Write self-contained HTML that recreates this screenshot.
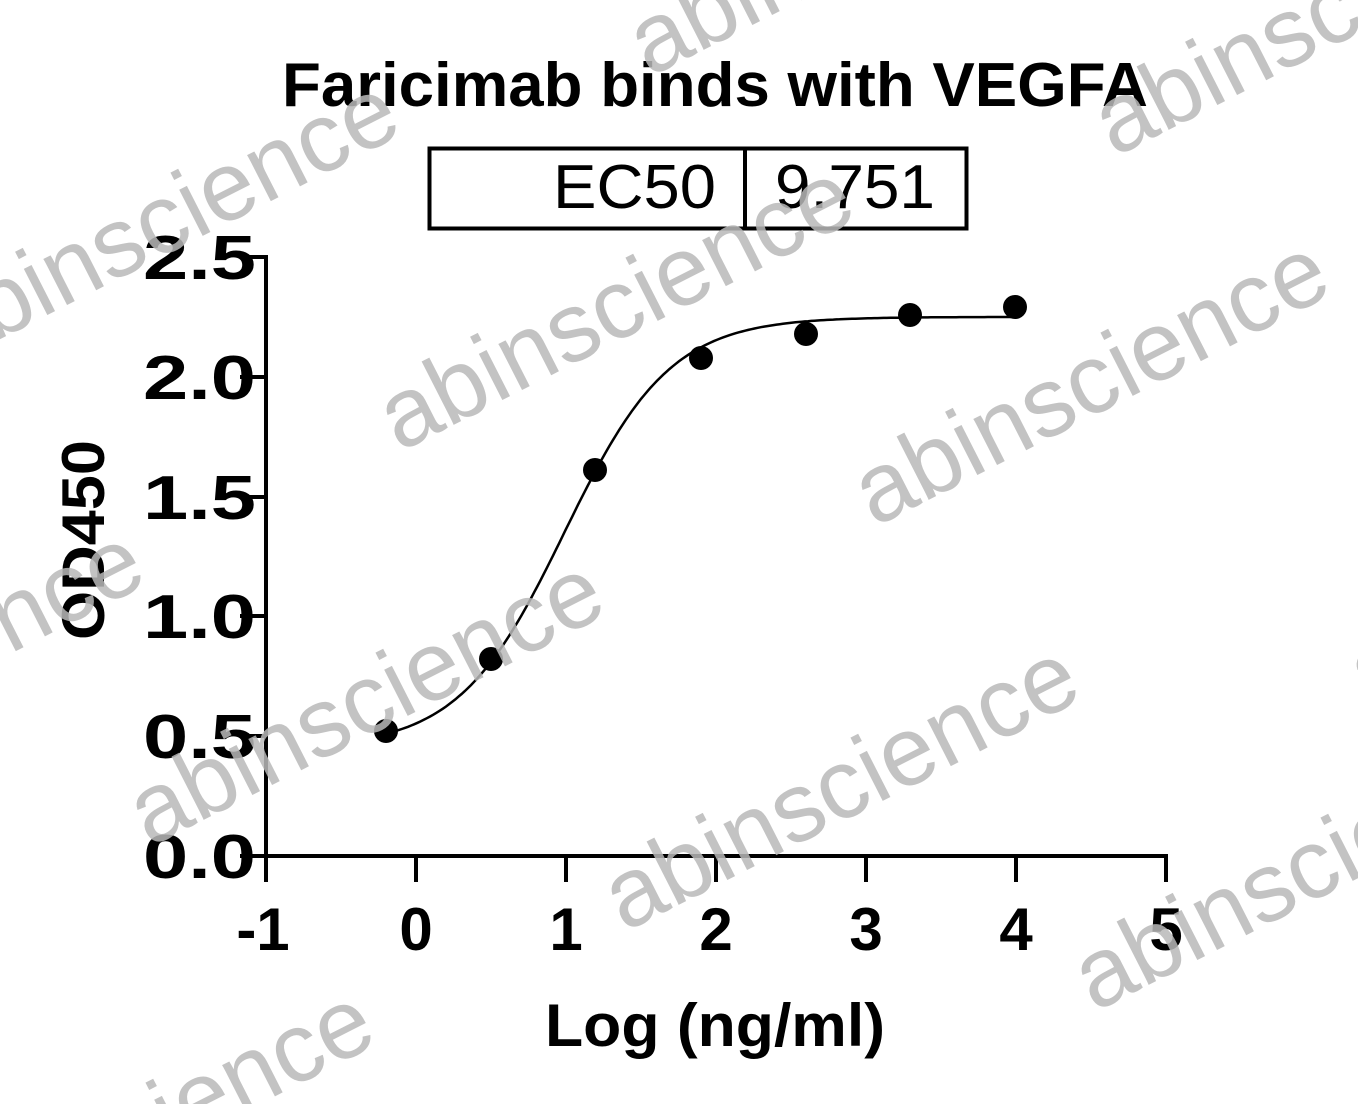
<!DOCTYPE html>
<html><head><meta charset="utf-8"><style>
html,body{margin:0;padding:0;background:#fff;overflow:hidden;width:1358px;height:1104px;}
svg{display:block;overflow:hidden;}
</style></head><body>
<svg id="s" width="1358" height="1104" viewBox="0 0 1358 1104" xmlns="http://www.w3.org/2000/svg" font-family="Liberation Sans, Arial, sans-serif">
<rect width="1358" height="1104" fill="#fff"/>
<text x="282" y="106" font-size="62" font-weight="bold" textLength="866" lengthAdjust="spacingAndGlyphs">Faricimab binds with VEGFA</text>
<rect x="429.5" y="148.5" width="537" height="80" fill="none" stroke="#000" stroke-width="4"/>
<line x1="745" y1="148" x2="745" y2="229" stroke="#000" stroke-width="4"/>
<text x="553" y="208" font-size="62" textLength="163" lengthAdjust="spacingAndGlyphs">EC50</text>
<text x="775" y="208" font-size="62" textLength="160" lengthAdjust="spacingAndGlyphs">9.751</text>
<g stroke="#000" stroke-width="4">
<line x1="266" y1="255" x2="266" y2="858"/>
<line x1="264" y1="856" x2="1168" y2="856"/>
<line x1="240" y1="257" x2="266" y2="257"/>
<line x1="240" y1="377" x2="266" y2="377"/>
<line x1="240" y1="497" x2="266" y2="497"/>
<line x1="240" y1="616" x2="266" y2="616"/>
<line x1="240" y1="736" x2="266" y2="736"/>
<line x1="240" y1="856" x2="266" y2="856"/>
<line x1="266" y1="856" x2="266" y2="882"/>
<line x1="416" y1="856" x2="416" y2="882"/>
<line x1="566" y1="856" x2="566" y2="882"/>
<line x1="716" y1="856" x2="716" y2="882"/>
<line x1="866" y1="856" x2="866" y2="882"/>
<line x1="1016" y1="856" x2="1016" y2="882"/>
<line x1="1166" y1="856" x2="1166" y2="882"/>
</g>
<g font-size="62" font-weight="bold">
<text x="143" y="279" textLength="113" lengthAdjust="spacingAndGlyphs">2.5</text>
<text x="143" y="399" textLength="113" lengthAdjust="spacingAndGlyphs">2.0</text>
<text x="143" y="519" textLength="113" lengthAdjust="spacingAndGlyphs">1.5</text>
<text x="143" y="638" textLength="113" lengthAdjust="spacingAndGlyphs">1.0</text>
<text x="143" y="758" textLength="113" lengthAdjust="spacingAndGlyphs">0.5</text>
<text x="143" y="878" textLength="113" lengthAdjust="spacingAndGlyphs">0.0</text>
</g>
<g font-size="60" font-weight="bold" text-anchor="middle">
<text x="263" y="950">-1</text>
<text x="416" y="950">0</text>
<text x="566" y="950">1</text>
<text x="716" y="950">2</text>
<text x="866" y="950">3</text>
<text x="1016" y="950">4</text>
<text x="1166" y="950">5</text>
</g>
<text x="545" y="1046" font-size="60" font-weight="bold" textLength="340" lengthAdjust="spacingAndGlyphs">Log (ng/ml)</text>
<text transform="translate(104,640) rotate(-90)" font-size="60" font-weight="bold" textLength="200" lengthAdjust="spacingAndGlyphs">OD450</text>
<path id="curve" fill="none" stroke="#000" stroke-width="2.5"/>
<g fill="#000">
<circle cx="386" cy="731" r="12"/>
<circle cx="491" cy="659" r="12"/>
<circle cx="595" cy="470" r="12"/>
<circle cx="701" cy="358" r="12"/>
<circle cx="806" cy="334" r="12"/>
<circle cx="910" cy="315" r="12"/>
<circle cx="1015" cy="307" r="12"/>
</g>
<g font-size="98" fill="#b8b8b8" fill-opacity="0.85" text-anchor="middle">
<text transform="translate(175,250) rotate(-27)">abinscience</text>
<text transform="translate(630,335) rotate(-27)">abinscience</text>
<text transform="translate(1105,410) rotate(-27)">abinscience</text>
<text transform="translate(380,730) rotate(-27)">abinscience</text>
<text transform="translate(855,815) rotate(-27)">abinscience</text>
<text transform="translate(1325,895) rotate(-27)">abinscience</text>
<text transform="translate(1345,40) rotate(-27)">abinscience</text>
<text transform="translate(150,1160) rotate(-27)">abinscience</text>
<text transform="translate(-80,700) rotate(-27)">abinscience</text>
<text transform="translate(880,-40) rotate(-27)">abinscience</text>
<text transform="translate(1600,590) rotate(-27)">abinscience</text>
</g>
</svg>
<script>
(function(){
var B=0.45,T=2.25,c=0.989,h=1.23,d="";
for(var i=0;i<=200;i++){var x=-0.2+4.2*i/200;var y=B+(T-B)/(1+Math.pow(10,(c-x)*h));
var px=416+150*x,py=856-y*239.6;d+=(i?"L":"M")+px.toFixed(1)+","+py.toFixed(1);}
document.getElementById("curve").setAttribute("d",d);
})();
</script>
</body></html>
